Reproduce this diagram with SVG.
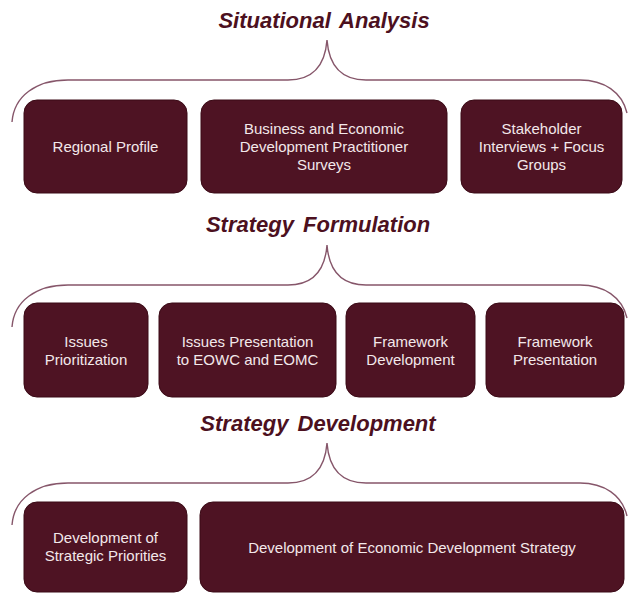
<svg xmlns="http://www.w3.org/2000/svg" width="628" height="593" viewBox="0 0 628 593">
<style>
.title{font-family:"Liberation Sans",Arial,sans-serif;font-weight:bold;font-style:italic;font-size:22px;fill:#4c1020;text-anchor:middle;word-spacing:3px}
.box{fill:#4e1323;stroke:#3a0a16;stroke-width:1}
.lbl{font-family:"Liberation Sans",Arial,sans-serif;font-size:15px;fill:#f3e8ea;text-anchor:middle}
.brace{fill:none;stroke:#86566a;stroke-width:1.4}
</style>
<defs>
<path id="bracePath" d="M12,122 C14,96 36,80 68,80 L288,80 C312,80 325,66 327,40 C329,66 342,80 366,80 L580,80 C604,80 622,92 627,113"/>
</defs>
<g id="connectors">
<use href="#bracePath" class="brace"/>
<use href="#bracePath" class="brace" transform="translate(0,205)"/>
<use href="#bracePath" class="brace" transform="translate(0,403)"/>
</g>
<g id="title-situational"><text class="title" x="324" y="28">Situational Analysis</text></g>
<g id="title-formulation"><text class="title" x="318" y="232">Strategy Formulation</text></g>
<g id="title-development"><text class="title" x="318" y="431">Strategy Development</text></g>

<g id="regional-profile">
<rect class="box" x="24" y="100" width="163" height="93" rx="13"/>
<text class="lbl" x="105.5" y="151.5">Regional Profile</text>
</g>
<g id="surveys">
<rect class="box" x="201" y="100" width="246" height="93" rx="13"/>
<text class="lbl" x="324" y="133.5">Business and Economic</text>
<text class="lbl" x="324" y="151.5">Development Practitioner</text>
<text class="lbl" x="324" y="169.5">Surveys</text>
</g>
<g id="stakeholder">
<rect class="box" x="461" y="100" width="161" height="93" rx="13"/>
<text class="lbl" x="541.5" y="133.5">Stakeholder</text>
<text class="lbl" x="541.5" y="151.5">Interviews + Focus</text>
<text class="lbl" x="541.5" y="169.5">Groups</text>
</g>

<g id="issues-prioritization">
<rect class="box" x="24" y="303" width="124" height="94" rx="13"/>
<text class="lbl" x="86" y="347">Issues</text>
<text class="lbl" x="86" y="365">Prioritization</text>
</g>
<g id="issues-presentation">
<rect class="box" x="159" y="303" width="177" height="94" rx="13"/>
<text class="lbl" x="247.5" y="347">Issues Presentation</text>
<text class="lbl" x="247.5" y="365">to EOWC and EOMC</text>
</g>
<g id="framework-development">
<rect class="box" x="346" y="303" width="129" height="94" rx="13"/>
<text class="lbl" x="410.5" y="347">Framework</text>
<text class="lbl" x="410.5" y="365">Development</text>
</g>
<g id="framework-presentation">
<rect class="box" x="486" y="303" width="138" height="94" rx="13"/>
<text class="lbl" x="555" y="347">Framework</text>
<text class="lbl" x="555" y="365">Presentation</text>
</g>

<g id="strategic-priorities">
<rect class="box" x="24" y="502" width="163" height="90" rx="13"/>
<text class="lbl" x="105.5" y="543">Development of</text>
<text class="lbl" x="105.5" y="561">Strategic Priorities</text>
</g>
<g id="economic-strategy">
<rect class="box" x="200" y="502" width="424" height="90" rx="13"/>
<text class="lbl" x="412" y="553">Development of Economic Development Strategy</text>
</g>
</svg>
